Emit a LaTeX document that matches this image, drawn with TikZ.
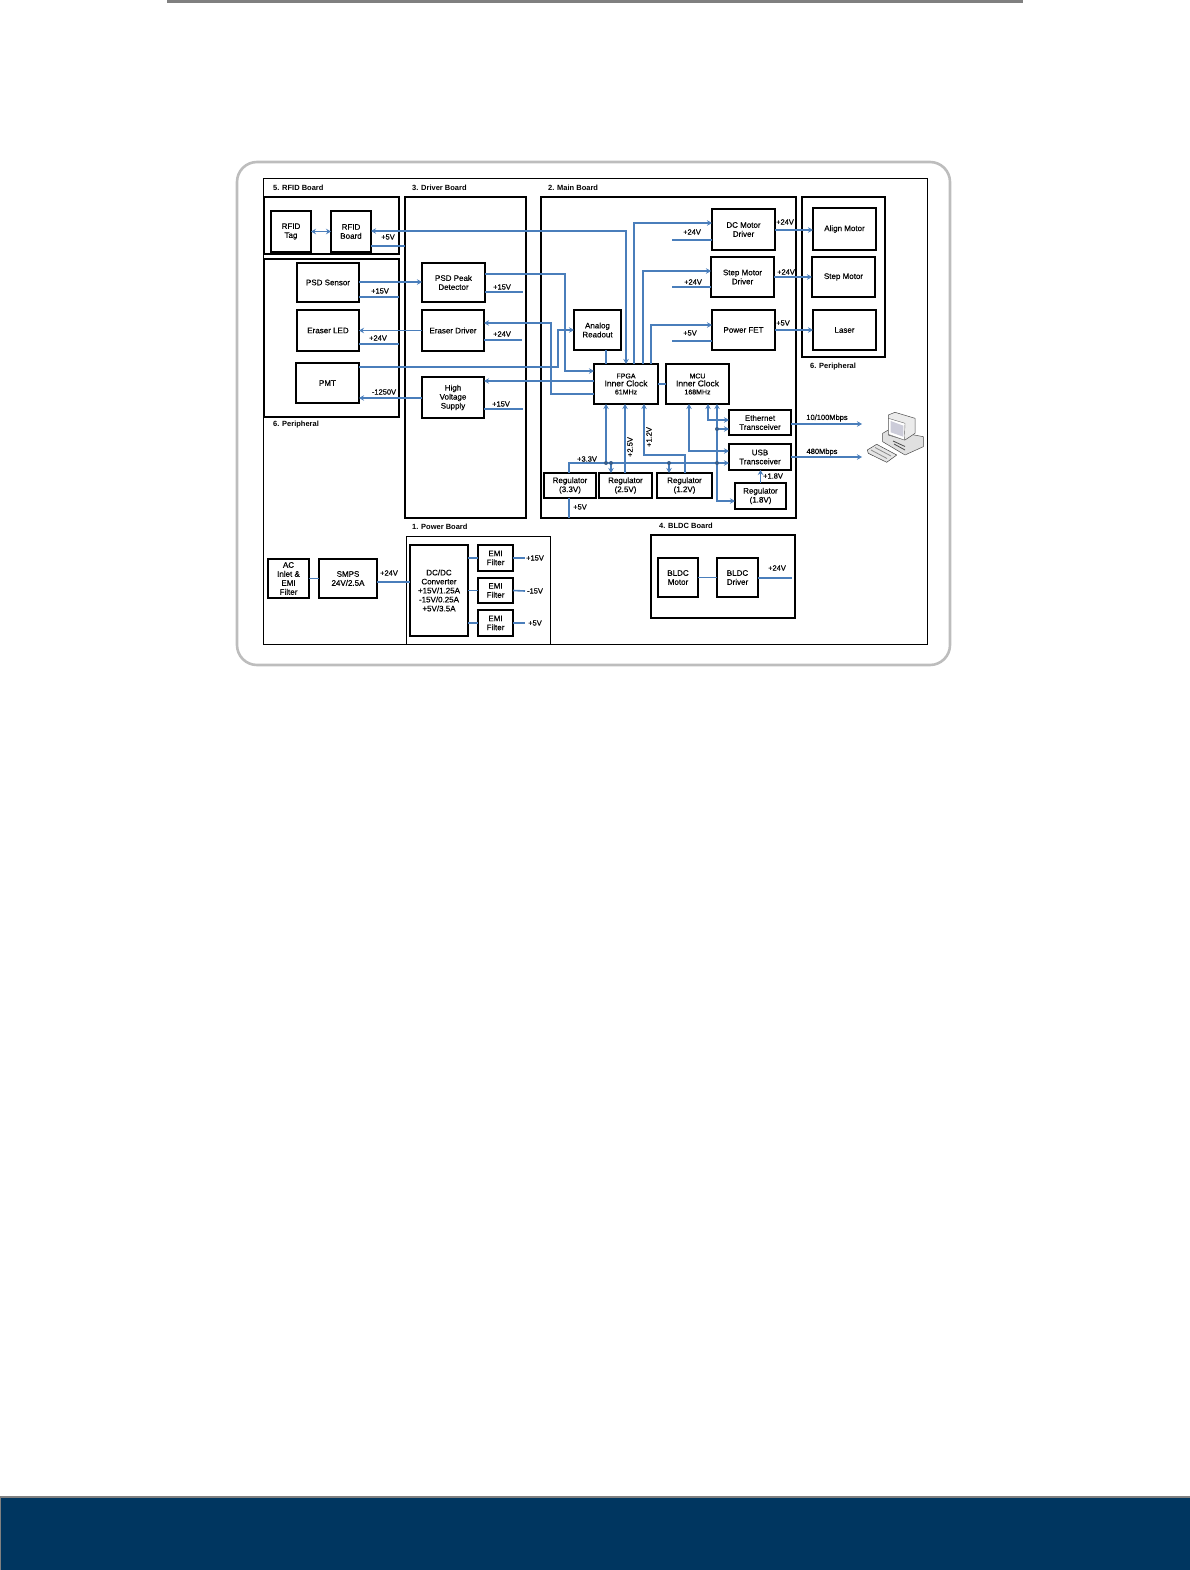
\documentclass[tikz,border=0pt]{standalone}
\usepackage{fontspec}
\setmainfont{Liberation Sans}
\newfontfamily\diafont{Liberation Sans}[FakeBold=0.35]
\usetikzlibrary{arrows.meta}
\definecolor{linkblue}{HTML}{4A7EBB}
\definecolor{barnavy}{HTML}{003660}
\definecolor{bargray}{HTML}{808080}
\definecolor{framegray}{HTML}{BDBDBD}

\begin{document}
\begin{tikzpicture}[
  x=1pt,y=-1pt,
  >={Stealth[length=5pt,width=5.5pt]},
  blk/.style={draw,line width=1.6pt,align=center,font=\diafont\fontsize{8}{9}\selectfont,
              inner sep=0pt,outer sep=0pt},
  board/.style={draw,line width=1.3pt,inner sep=0pt,outer sep=0pt},
  brd/.style={anchor=west,font=\fontsize{7.5}{9}\selectfont\bfseries,inner sep=0pt},
  volt/.style={font=\diafont\fontsize{7.5}{9}\selectfont,inner sep=0pt},
  main/.style={->,linkblue,line width=1.6pt},
  both/.style={<->,linkblue,line width=1.6pt},
  rail/.style={linkblue,line width=1.6pt},
  junc/.style={circle,fill=linkblue!75!black,inner sep=0pt,minimum size=4pt},
]
\useasboundingbox (0,0) rectangle (1190,1570);

% page furniture
\fill[bargray] (167,0) rectangle (1023,3);
\fill[bargray] (0,1496) rectangle (1190,1570);
\fill[barnavy] (1,1498) rectangle (1190,1570);

% frame
\draw[framegray,line width=2.6pt,rounded corners=20pt] (237,162) rectangle (950,665);
\draw[line width=.7pt] (263,178) rectangle (927,644);

% boards
\node[board,minimum width=135pt,minimum height=57pt] (rfidbrd) at (331.5,225.5) {};
\node[board,minimum width=135pt,minimum height=158pt] (perileft) at (331.5,338) {};
\node[board,minimum width=121pt,minimum height=321pt] (driverbrd) at (465.5,357.5) {};
\node[board,minimum width=255pt,minimum height=321pt] (mainbrd) at (668.5,357.5) {};
\node[board,minimum width=83pt,minimum height=160pt] (periright) at (843.5,277) {};
\node[board,minimum width=144pt,minimum height=83pt] (bldcbrd) at (723,576.5) {};
\node[board,line width=.8pt,minimum width=144pt,minimum height=108pt] (powerbrd) at (478,590) {};

\node[brd] (lrfid) at (273,188) {5. RFID Board};
\node[brd] (ldriver) at (412,188) {3. Driver Board};
\node[brd] (lmain) at (548,188) {2. Main Board};
\node[brd] (lperileft) at (273,425) {6. Peripheral};
\node[brd] (lperiright) at (810,367) {6. Peripheral};
\node[brd] (lpower) at (412,527) {1. Power Board};
\node[brd] (lbldc) at (659,526) {4. BLDC Board};

% peripheral and driver blocks
\node[blk,minimum width=40pt,minimum height=41pt] (rfidtag) at (291,231.5) {RFID\\Tag};
\node[blk,minimum width=40pt,minimum height=41pt] (rfidboard) at (351,231.5) {RFID\\Board};
\node[blk,minimum width=62pt,minimum height=39pt] (psdsensor) at (328,282.5) {PSD Sensor};
\node[blk,minimum width=62pt,minimum height=41pt] (eraserled) at (328,330.5) {Eraser LED};
\node[blk,line width=2pt,minimum width=63pt,minimum height=40pt] (pmt) at (327.5,383) {PMT};
\node[blk,minimum width=63pt,minimum height=39pt] (psdpeak) at (453.5,282.5) {PSD Peak\\Detector};
\node[blk,minimum width=62pt,minimum height=41pt] (eraserdrv) at (453,330.5) {Eraser Driver};
\node[blk,minimum width=62pt,minimum height=41pt] (hvsupply) at (453,397.5) {High\\Voltage\\Supply};

% main board blocks
\node[blk,minimum width=63pt,minimum height=41pt] (dcdrv) at (743.5,229.5) {DC Motor\\Driver};
\node[blk,minimum width=63pt,minimum height=40pt] (stepdrv) at (742.5,277) {Step Motor\\Driver};
\node[blk,minimum width=63pt,minimum height=40pt] (powerfet) at (743.5,330) {Power FET};
\node[blk,minimum width=47pt,minimum height=40pt] (analog) at (597.5,330) {Analog\\Readout};
\node[blk,minimum width=64pt,minimum height=40pt] (fpga) at (626,384)
  {{\fontsize{7}{8}\selectfont FPGA}\\[-1pt]{\fontsize{8.5}{9}\selectfont Inner Clock}\\[-1pt]{\fontsize{7}{8}\selectfont 61MHz}};
\node[blk,minimum width=63pt,minimum height=40pt] (mcu) at (697.5,384)
  {{\fontsize{7}{8}\selectfont MCU}\\[-1pt]{\fontsize{8.5}{9}\selectfont Inner Clock}\\[-1pt]{\fontsize{7}{8}\selectfont 168MHz}};
\node[blk,minimum width=62pt,minimum height=25pt] (ethernet) at (760,422.5) {Ethernet\\Transceiver};
\node[blk,minimum width=62pt,minimum height=26pt] (usb) at (760,457) {USB\\Transceiver};
\node[blk,minimum width=52pt,minimum height=25pt] (regthree) at (570,485.5) {Regulator\\(3.3V)};
\node[blk,minimum width=53pt,minimum height=25pt] (regtwo) at (625.5,485.5) {Regulator\\(2.5V)};
\node[blk,minimum width=55pt,minimum height=25pt] (regone) at (684.5,485.5) {Regulator\\(1.2V)};
\node[blk,minimum width=51pt,minimum height=26pt] (regeight) at (760.5,496) {Regulator\\(1.8V)};

% right peripherals
\node[blk,minimum width=63pt,minimum height=42pt] (alignmotor) at (844.5,229) {Align Motor};
\node[blk,minimum width=63pt,minimum height=40pt] (stepmotor) at (843.5,277) {Step Motor};
\node[blk,minimum width=63pt,minimum height=40pt] (laser) at (844.5,330) {Laser};

% power and bldc blocks
\node[blk,minimum width=41pt,minimum height=39pt] (acinlet) at (288.5,578.5) {AC\\Inlet \&\\EMI\\Filter};
\node[blk,minimum width=58pt,minimum height=39pt] (smps) at (348,578.5) {SMPS\\24V/2.5A};
\node[blk,minimum width=58pt,minimum height=91pt] (dcdc) at (439,590.5)
  {DC/DC\\Converter\\+15V/1.25A\\-15V/0.25A\\+5V/3.5A};
\node[blk,minimum width=35pt,minimum height=26pt] (emia) at (495.5,558) {EMI\\Filter};
\node[blk,minimum width=35pt,minimum height=25pt] (emib) at (495.5,590.5) {EMI\\Filter};
\node[blk,minimum width=35pt,minimum height=26pt] (emic) at (495.5,623) {EMI\\Filter};
\node[blk,minimum width=40pt,minimum height=39pt] (bldcmotor) at (678,577.5) {BLDC\\Motor};
\node[blk,minimum width=41pt,minimum height=39pt] (bldcdrv) at (737.5,577.5) {BLDC\\Driver};

% supply rail ends
\coordinate (endrfid) at (405,246);
\coordinate (endpsd) at (399,297);
\coordinate (endled) at (399,344);
\coordinate (endpeak) at (523,292);
\coordinate (enddrv) at (522,340);
\coordinate (endhv) at (523,409);
\coordinate (enddc) at (672,240);
\coordinate (endstep) at (672,287);
\coordinate (endfet) at (672,341);
\coordinate (endfive) at (569,518);
\coordinate (endemia) at (525,558);
\coordinate (endemib) at (525,591);
\coordinate (endemic) at (525,623);
\coordinate (endbldc) at (792,578);
\coordinate (endeth) at (862,424);
\coordinate (endusb) at (862,457);

\draw[both] (rfidtag) -- (rfidboard);
\draw[both] (rfidboard.east |- 0,231) -| (fpga.north -| 626,0);
\draw[rail] (rfidboard.east |- endrfid) -- (endrfid);
\draw[main] (psdsensor.east |- 0,282) -- (psdpeak.west |- 0,282);
\draw[rail] (psdsensor.east |- endpsd) -- (endpsd);
\draw[main] (eraserdrv.west) -- (eraserled.east);
\draw[rail] (eraserled.east |- endled) -- (endled);
\draw[main] (hvsupply.west |- 0,398) -- (pmt.east |- 0,398);
\draw[main] (pmt.east |- 0,367) -- (558,367) |- (analog.west);
\draw[main] (fpga.west |- 0,381) -- (hvsupply.east |- 0,381);
\draw[main] (fpga.west |- 0,394) -- (551,394) |- (eraserdrv.east |- 0,323);
\draw[main] (psdpeak.east |- 0,274) -- (565,274) |- (fpga.west |- 0,371);
\draw[rail] (psdpeak.east |- endpeak) -- (endpeak);
\draw[rail] (eraserdrv.east |- enddrv) -- (enddrv);
\draw[rail] (hvsupply.east |- endhv) -- (endhv);

\draw[rail] (analog.south -| 606,0) -- (fpga.north -| 606,0);
\draw[rail] (fpga) -- (mcu);
\draw[main] (fpga.north -| 634,0) |- (dcdrv.west |- 0,223);
\draw[main] (fpga.north -| 643,0) |- (stepdrv.west |- 0,271);
\draw[main] (fpga.north -| 651,0) |- (powerfet.west |- 0,325);
\draw[rail] (dcdrv.west |- enddc) -- (enddc);
\draw[rail] (stepdrv.west |- endstep) -- (endstep);
\draw[rail] (powerfet.west |- endfet) -- (endfet);
\draw[main] (dcdrv.east |- 0,230) -- (alignmotor.west |- 0,230);
\draw[main] (stepdrv.east) -- (stepmotor.west);
\draw[main] (powerfet.east) -- (laser.west);

% 3.3V bus and regulators
\draw[rail] (endfive) -- (regthree.south -| endfive);
\draw[main] (regthree.north -| 569,0) |- (usb.west |- 0,463);
\draw[main] (606,463) -- (fpga.south -| 606,0);
\draw[main] (611,463) -- (regtwo.north -| 611,0);
\draw[main] (669,463) -- (regone.north -| 669,0);
\draw[main] (regtwo.north -| 625,0) -- (fpga.south -| 625,0);
\draw[main] (regone.north -| 685,0) |- (644,455) -- (fpga.south -| 644,0);
\draw[both] (mcu.south -| 689,0) |- (usb.west |- 0,451);
\draw[both] (mcu.south -| 708,0) |- (ethernet.west |- 0,420);
\draw[main] (717,463) -- (mcu.south -| 717,0);
\draw[main] (717,463) |- (regeight.west |- 0,501);
\draw[main] (717,429) -- (ethernet.west |- 0,429);
\draw[main] (regeight.north) -- (usb.south -| regeight.north);
\draw[main] (ethernet.east |- endeth) -- (endeth);
\draw[main] (usb.east |- endusb) -- (endusb);
\node[junc] (jfpga) at (606,463) {};
\node[junc] (jtwo) at (611,463) {};
\node[junc] (jone) at (669,463) {};
\node[junc] (jbus) at (717,463) {};
\node[junc] (jeth) at (717,429) {};

% power and bldc links
\draw[rail] (acinlet) -- (smps.west |- acinlet);
\draw[rail] (smps.east |- 0,582) -- (dcdc.west |- 0,582);
\draw[rail] (dcdc.east |- emia) -- (emia.west);
\draw[rail] (dcdc.east |- emib) -- (emib.west);
\draw[rail] (dcdc.east |- emic) -- (emic.west);
\draw[rail] (emia.east) -- (endemia);
\draw[rail] (emib.east) -- (endemib);
\draw[rail] (emic.east) -- (endemic);
\draw[rail] (bldcmotor) -- (bldcdrv);
\draw[rail] (bldcdrv.east |- endbldc) -- (endbldc);

% voltage labels
\node[volt] (vrfid) at (388,237) {+5V};
\node[volt] (vpsd) at (380,291) {+15V};
\node[volt] (vled) at (378,338) {+24V};
\node[volt] (vpmt) at (384,392) {-1250V};
\node[volt] (vpeak) at (502,287) {+15V};
\node[volt] (vdrv) at (502,334) {+24V};
\node[volt] (vhv) at (501,404) {+15V};
\node[volt] (vdc) at (692,232) {+24V};
\node[volt] (vstep) at (693,282) {+24V};
\node[volt] (vfet) at (690,333) {+5V};
\node[volt] (vdcout) at (785,222) {+24V};
\node[volt] (vstepout) at (786,272) {+24V};
\node[volt] (vfetout) at (783,323) {+5V};
\node[volt] (vthree) at (587,459) {+3.3V};
\node[volt,rotate=90] (vtwo) at (630,447) {+2.5V};
\node[volt,rotate=90] (vone) at (649,437) {+1.2V};
\node[volt] (vfive) at (580,507) {+5V};
\node[volt] (veight) at (773,476) {+1.8V};
\node[volt] (veth) at (827,418) {10/100Mbps};
\node[volt] (vusb) at (822,452) {480Mbps};
\node[volt] (vsmps) at (389,573) {+24V};
\node[volt] (vemia) at (535,558) {+15V};
\node[volt] (vemib) at (535,591) {-15V};
\node[volt] (vemic) at (535,623) {+5V};
\node[volt] (vbldc) at (777,568) {+24V};

% computer
\filldraw[fill=black!12,draw=black!70,line width=.5pt,line join=round]
  (882.7,433.3) -- (888.3,430) -- (923.3,436.7) -- (923.3,446.7) -- (905,455) -- (882.7,441.7) -- cycle;
\filldraw[fill=black!8,draw=black!70,line width=.5pt,line join=round]
  (888.3,415) -- (895,412.3) -- (915,418.3) -- (915,433.3) -- (905,440) -- (888.3,435) -- cycle;
\filldraw[fill=white,draw=black!60,line width=.4pt] (888.3,418.3) -- (905,423.3) -- (904.3,440) -- (888.3,434.3) -- cycle;
\fill[blue!25!black!20] (890.7,421) -- (903.3,425.7) -- (903.3,436.7) -- (890.7,432.3) -- cycle;
\draw[black!70,line width=.8pt] (893,441) -- (905,446.5) (894,444) -- (905,450);
\filldraw[fill=black!10,draw=black!75,line width=.5pt,line join=round]
  (867.3,450) -- (876.7,444.3) -- (896.7,455) -- (886.7,462.3) -- (868.3,453.3) -- cycle;
\draw[black!45,line width=.8pt] (871,450) -- (887,458.5) (875,447.5) -- (891,456);
\end{tikzpicture}
\end{document}
